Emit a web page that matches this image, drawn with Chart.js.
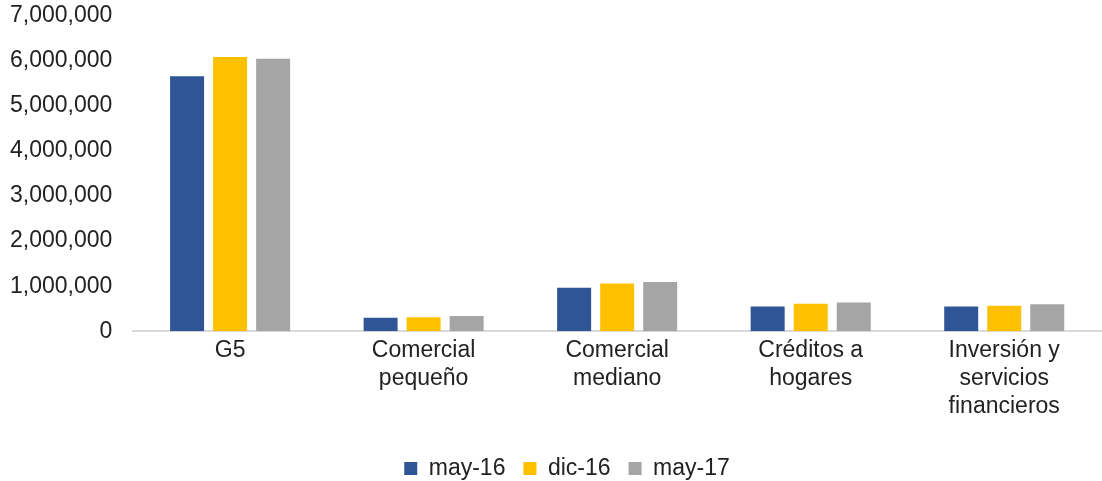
<!DOCTYPE html>
<html lang="es">
<head>
    <meta charset="UTF-8">
    <title>Colocaciones por segmento</title>
    <style>
        body {
            margin: 0;
            padding: 0;
            background: #ffffff;
        }
        .chart-box {
            position: relative;
            width: 1102px;
            height: 481px;
        }
    </style>
    <script src="https://cdn.jsdelivr.net/npm/chart.js"></script>
</head>
<body>
    <div class="chart-box">
        <canvas id="segmentChart"></canvas>
    </div>
    <script>
        // Segment names (multi-line labels) and series values
        const categories = [
            'G5',
            ['Comercial', 'pequeño'],
            ['Comercial', 'mediano'],
            ['Créditos a', 'hogares'],
            ['Inversión y', 'servicios', 'financieros']
        ];
        const seriesNames = ['may-16', 'dic-16', 'may-17'];
        const may16 = [5660000, 300000, 965000, 550000, 550000];
        const dic16 = [6090000, 310000, 1060000, 610000, 565000];
        const may17 = [6050000, 340000, 1090000, 640000, 600000];
        const seriesColors = ['#2F5597', '#FFC000', '#A5A5A5'];

        const textColor = '#222222';
        const baseFont = { family: 'Liberation Sans, Arial, sans-serif', size: 23 };

        const datasets = [may16, dic16, may17].map((values, i) => ({
            label: seriesNames[i],
            data: values,
            backgroundColor: seriesColors[i],
            borderWidth: 0,
            categoryPercentage: 0.667,
            barPercentage: 0.79
        }));

        // move the centred legend a little to the right
        const legendShift = {
            id: 'legendShift',
            afterLayout(chart) {
                chart.legend.left += 22;
                chart.legend.right += 22;
            }
        };

        new Chart(document.getElementById('segmentChart').getContext('2d'), {
            type: 'bar',
            data: { labels: categories, datasets: datasets },
            plugins: [legendShift],
            options: {
                responsive: true,
                maintainAspectRatio: false,
                animation: false,
                layout: {
                    padding: { left: -11, right: 1, top: 0, bottom: -9 }
                },
                scales: {
                    x: {
                        grid: { display: false, drawTicks: false },
                        border: { display: true, color: '#D9D9D9', width: 2 },
                        ticks: {
                            color: textColor,
                            font: baseFont,
                            padding: 6,
                            maxRotation: 0,
                            autoSkip: false
                        },
                        // leave some room between the category labels and the legend
                        afterFit: (scale) => { scale.height += 13; }
                    },
                    y: {
                        min: 0,
                        max: 7000000,
                        grid: { display: false, drawTicks: false },
                        border: { display: false },
                        ticks: {
                            stepSize: 1000000,
                            color: textColor,
                            font: baseFont,
                            padding: 21,
                            callback: (v) => v.toLocaleString('en-US')
                        },
                        // tick padding is meant for the side gap only, keep the top tight
                        afterFit: (scale) => { scale.paddingTop = 16; }
                    }
                },
                plugins: {
                    legend: {
                        position: 'bottom',
                        labels: {
                            color: textColor,
                            font: baseFont,
                            boxWidth: 13,
                            boxHeight: 13,
                            padding: 18
                        }
                    },
                    tooltip: { enabled: false }
                }
            }
        });
    </script>
</body>
</html>
